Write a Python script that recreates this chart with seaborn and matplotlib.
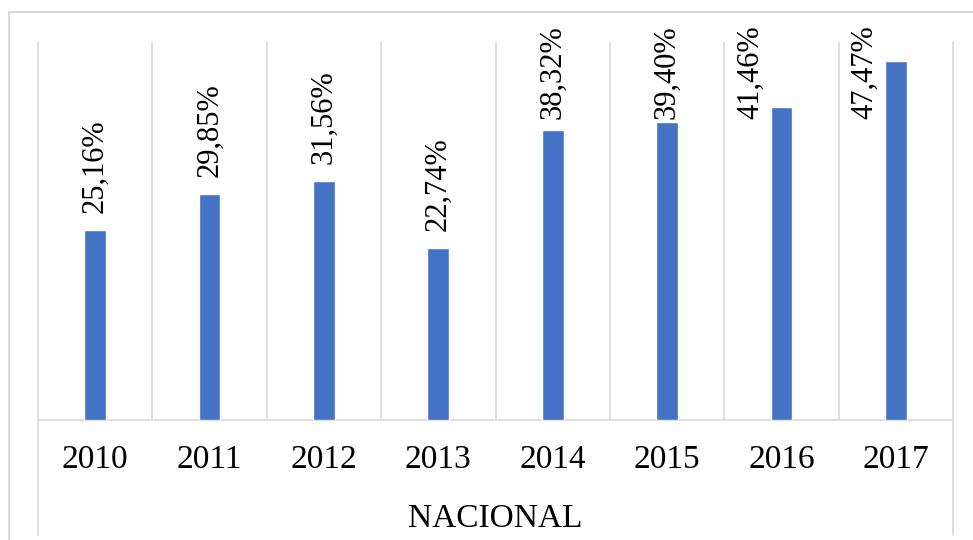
import matplotlib as mpl
import pandas as pd
from matplotlib import pyplot as plt
from matplotlib.lines import Line2D
import seaborn as sns

years = ["2010", "2011", "2012", "2013", "2014", "2015", "2016", "2017"]
values = [25.16, 29.85, 31.56, 22.74, 38.32, 39.40, 41.46, 47.47]
axis_title = "NACIONAL"

df = pd.DataFrame({"year": years, "value": values})

sns.set_style("white")
plt.rcParams['font.family'] = ['Liberation Serif', 'DejaVu Serif']
plt.rcParams['text.color'] = 'black'
plt.rcParams['xtick.color'] = 'black'
plt.rcParams['axes.labelcolor'] = 'black'

W, H = 973, 540
fig = plt.figure(figsize=(W / 100, H / 100), dpi=100)
ax = fig.add_axes([38 / W, (H - 420) / H, (953 - 38) / W, (420 - 42) / H])

sns.barplot(data=df, x="year", y="value", color="#4472C4", saturation=1,
            width=0.19, ax=ax, zorder=3)

grid_c = "#D9D9D9"
ax.set_ylim(0, 50)
ax.set_xlim(-0.5, len(years) - 0.5)
ax.set_yticks([])
ax.set_ylabel("")
for s in ["top", "left", "right"]:
    ax.spines[s].set_visible(False)
ax.spines["bottom"].set_color(grid_c)
ax.spines["bottom"].set_linewidth(1.2)

# vertical gridlines on category boundaries, outer ones run down past the labels
for i in range(len(years) + 1):
    x = i - 0.5
    if i == 0 or i == len(years):
        ax.axvline(x, ymin=-115 / 378, ymax=1, color=grid_c, lw=1.2, clip_on=False, zorder=1)
    else:
        ax.axvline(x, color=grid_c, lw=1.2, zorder=1)

ax.tick_params(axis="x", length=0, pad=18, labelsize=24)
ax.set_xlabel(axis_title, fontsize=24, labelpad=20)

# data labels
px = 378 / 50  # pixels per unit
gap = 17 / px
lab_len = 93 / px
top_lim = 50 + 17 / px
for i, v in enumerate(values):
    txt = f"{v:.2f}".replace(".", ",") + "%"
    if v + gap + lab_len <= top_lim:
        ax.text(i, v + gap, txt, rotation=90, ha="center", va="bottom",
                fontsize=22, clip_on=False)
    else:
        shift = -31 * 0.72 if top_lim - lab_len < v else 0
        ax.annotate(txt, (i, top_lim), xytext=(shift, 0), textcoords="offset points",
                    rotation=90, ha="center", va="top", fontsize=22,
                    annotation_clip=False)

# outer frame
fig.add_artist(Line2D([9 / W, 1], [1 - 12 / H, 1 - 12 / H], color=grid_c, lw=1.5))
fig.add_artist(Line2D([9 / W, 9 / W], [0, 1 - 12 / H], color=grid_c, lw=1.5))

fig.savefig("out.png", dpi=100)
